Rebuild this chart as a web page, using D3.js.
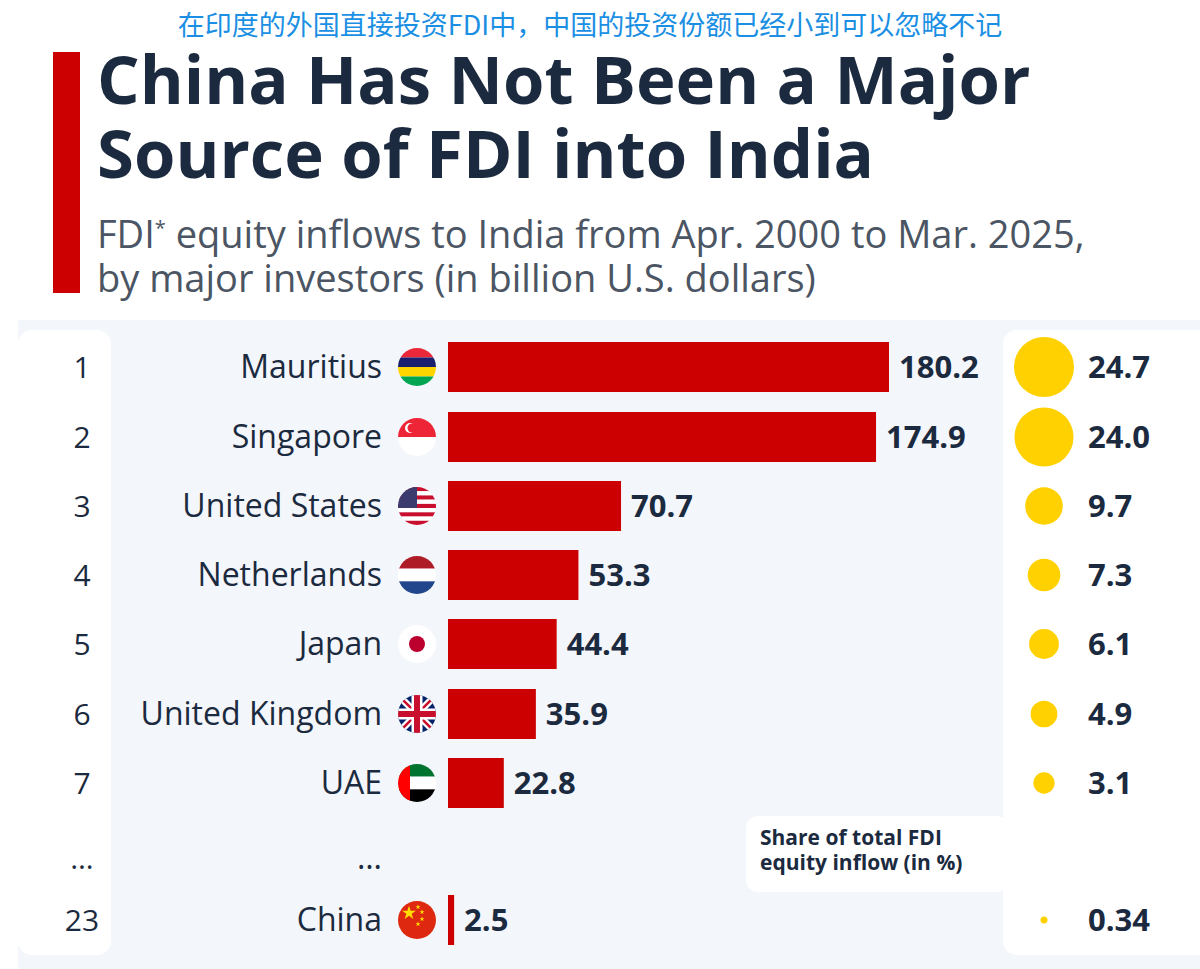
<!DOCTYPE html>
<html><head><meta charset="utf-8">
<script src="https://cdn.jsdelivr.net/npm/d3@7"></script>
<style>body{margin:0;background:#fff}svg{display:block;font-family:"Open Sans",sans-serif}</style>
</head><body>
<svg id="chart" width="1200" height="969"></svg>
<script>
// Datos
const ranks = ["1", "2", "3", "4", "5", "6", "7", "…", "23"];
const countries = ["Mauritius", "Singapore", "United States", "Netherlands", "Japan", "United Kingdom", "UAE", "…", "China"];
const fdi = [180.2, 174.9, 70.7, 53.3, 44.4, 35.9, 22.8, null, 2.5];
const share = [24.7, 24.0, 9.7, 7.3, 6.1, 4.9, 3.1, null, 0.34];
const shareLabels = ["24.7", "24.0", "9.7", "7.3", "6.1", "4.9", "3.1", "", "0.34"];
const flags = ["mu", "sg", "us", "nl", "jp", "gb", "ae", null, "cn"];

const data = ranks.map((rank, i) => ({ rank, country: countries[i], fdi: fdi[i], share: share[i], label: shareLabels[i], flag: flags[i], i }));

const svg = d3.select("#chart");
const dark = "#1b2a3e";

// Fondo del panel
svg.append("rect").attr("x", 18).attr("y", 320).attr("width", 1182).attr("height", 649).attr("fill", "#f3f6fa");
svg.append("rect").attr("x", 18).attr("y", 330).attr("width", 93).attr("height", 625).attr("rx", 14).attr("fill", "#fff");
svg.append("rect").attr("x", 1003).attr("y", 330).attr("width", 220).attr("height", 625).attr("rx", 14).attr("fill", "#fff");

// Títulos
svg.append("text").attr("x", 590).attr("y", 35).attr("text-anchor", "middle")
  .attr("font-family", "'Noto Sans CJK SC'").attr("font-size", 27).attr("fill", "#1a8fe3")
  .text("在印度的外国直接投资FDI中，中国的投资份额已经小到可以忽略不记");
svg.append("rect").attr("x", 53).attr("y", 52).attr("width", 27).attr("height", 241).attr("fill", "#cc0000");
["China Has Not Been a Major", "Source of FDI into India"].forEach((t, i) =>
  svg.append("text").attr("x", 97).attr("y", 104 + i * 74).attr("font-size", 67).attr("font-weight", 700)
    .attr("fill", dark).text(t));
const sub = svg.append("g").attr("font-size", 38).attr("fill", "#4b5563");
const s1 = sub.append("text").attr("x", 97).attr("y", 248);
s1.append("tspan").text("FDI");
s1.append("tspan").attr("font-size", 20).attr("dy", -13).text("*");
s1.append("tspan").attr("dy", 13).text(" equity inflows to India from Apr. 2000 to Mar. 2025,");
sub.append("text").attr("x", 97).attr("y", 292).text("by major investors (in billion U.S. dollars)");

// Escalas
const rowY = [367, 437, 506, 575, 644, 714, 783, 858, 920];
const x = d3.scaleLinear().domain([0, 180.2]).range([448, 889]);
const r = d3.scaleSqrt().domain([0, 24.7]).range([0, 30]);

const rows = svg.append("g").selectAll("g").data(data).join("g")
  .attr("transform", d => `translate(0,${rowY[d.i]})`);

rows.append("text").attr("x", 82).attr("dy", "0.35em").attr("text-anchor", "middle")
  .attr("font-size", 30).attr("fill", dark).text(d => d.rank);
rows.append("text").attr("x", 382).attr("dy", "0.35em").attr("text-anchor", "end")
  .attr("font-size", 32).attr("fill", dark).text(d => d.country);

const withVal = rows.filter(d => d.fdi != null);
withVal.append("rect")
  .attr("x", x(0)).attr("y", -25).attr("height", 50)
  .attr("width", d => Math.max(4, x(d.fdi) - x(0))).attr("fill", "#cc0000");
withVal.append("text")
  .attr("x", d => Math.max(x(0) + 4, x(d.fdi)) + 10).attr("dy", "0.35em")
  .attr("font-size", 31).attr("font-weight", 700).attr("fill", dark).text(d => d.fdi.toFixed(1));

withVal.append("circle").attr("cx", 1044).attr("r", d => r(d.share)).attr("fill", "#ffd100");
rows.append("text").attr("x", 1088).attr("dy", "0.35em")
  .attr("font-size", 31).attr("font-weight", 700).attr("fill", dark).text(d => d.label);

// Banderas
const defs = svg.append("defs");
defs.append("clipPath").attr("id", "flagclip").append("circle").attr("r", 19);
function stripes(g, cols) {
  const h = 38 / cols.length;
  cols.forEach((c, k) => g.append("rect")
    .attr("x", -19).attr("y", -19 + k * h).attr("width", 38).attr("height", h).attr("fill", c));
}
rows.each(function (d) {
  const f = d.flag;
  if (!f) return;
  const g = d3.select(this).append("g").attr("transform", "translate(417,0)")
    .append("g").attr("clip-path", "url(#flagclip)");
  if (f === "mu") stripes(g, ["#ea2839", "#1a206d", "#ffd500", "#00a551"]);
  if (f === "sg") { stripes(g, ["#ee2536", "#fff"]);
    g.append("circle").attr("cx", -7).attr("cy", -9).attr("r", 5).attr("fill", "#fff");
    g.append("circle").attr("cx", -5).attr("cy", -9).attr("r", 4.5).attr("fill", "#ee2536"); }
  if (f === "us") { stripes(g, d3.range(9).map(k => k % 2 ? "#fff" : "#c8102e"));
    g.append("rect").attr("x", -19).attr("y", -19).attr("width", 19).attr("height", 21).attr("fill", "#3c3b6e"); }
  if (f === "nl") stripes(g, ["#ae1c28", "#fff", "#21468b"]);
  if (f === "jp") { g.append("rect").attr("x", -19).attr("y", -19).attr("width", 38).attr("height", 38).attr("fill", "#fff");
    g.append("circle").attr("r", 8).attr("fill", "#bc002d"); }
  if (f === "gb") { g.append("rect").attr("x", -19).attr("y", -19).attr("width", 38).attr("height", 38).attr("fill", "#012169");
    g.append("path").attr("d", "M-19,-19L19,19M19,-19L-19,19").attr("stroke", "#fff").attr("stroke-width", 7);
    g.append("path").attr("d", "M-19,-19L19,19M19,-19L-19,19").attr("stroke", "#c8102e").attr("stroke-width", 2.5);
    g.append("path").attr("d", "M0,-19V19M-19,0H19").attr("stroke", "#fff").attr("stroke-width", 11);
    g.append("path").attr("d", "M0,-19V19M-19,0H19").attr("stroke", "#c8102e").attr("stroke-width", 6); }
  if (f === "ae") { stripes(g, ["#00732f", "#fff", "#000"]);
    g.append("rect").attr("x", -19).attr("y", -19).attr("width", 12).attr("height", 38).attr("fill", "#ff0000"); }
  if (f === "cn") { g.append("rect").attr("x", -19).attr("y", -19).attr("width", 38).attr("height", 38).attr("fill", "#de2910");
    g.append("path").attr("d", d3.symbol(d3.symbolStar, 60)()).attr("transform", "translate(-8,-7)").attr("fill", "#ffde00");
    [[1, -13], [5, -8], [5, -1], [1, 4]].forEach(([a, b]) =>
      g.append("path").attr("d", d3.symbol(d3.symbolStar, 8)()).attr("transform", `translate(${a},${b})`).attr("fill", "#ffde00")); }
});

// Leyenda del círculo
svg.append("rect").attr("x", 746).attr("y", 816).attr("width", 262).attr("height", 76).attr("rx", 12).attr("fill", "#fff");
["Share of total FDI", "equity inflow (in %)"].forEach((t, i) =>
  svg.append("text").attr("x", 760).attr("y", 845 + i * 25).attr("font-size", 21).attr("font-weight", 700)
    .attr("fill", dark).text(t));
</script>
</body></html>
